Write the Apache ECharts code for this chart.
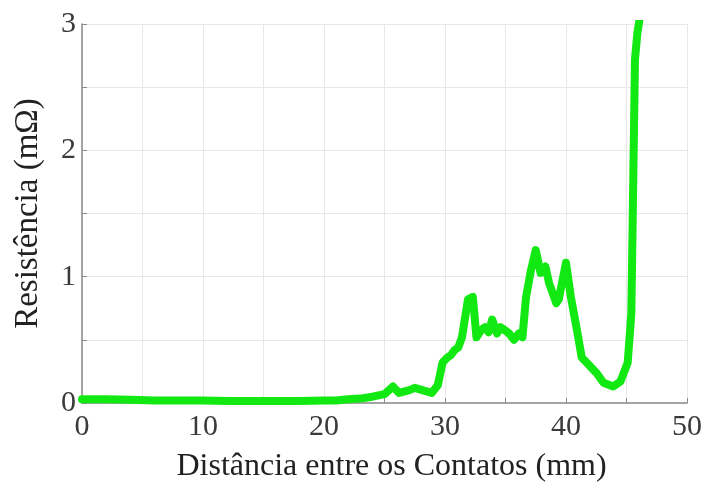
<!DOCTYPE html>
<html>
<head>
<meta charset="utf-8">
<script src="https://cdn.jsdelivr.net/npm/echarts@6/dist/echarts.min.js"></script>
<style>html,body{margin:0;padding:0;background:#fff;}#c{width:705px;height:493px;}</style>
</head>
<body>
<div id="c"></div>
<script>
const distances = [0,2,4,6,8,10,12,14,16,18,20,21,22,23,24,25,25.7,26.2,27,27.5,28.2,28.9,29.4,29.8,30.2,30.5,30.8,31.1,31.4,31.9,32.3,32.6,33.0,33.3,33.6,33.9,34.3,34.6,34.9,35.3,35.7,36.1,36.4,36.7,37.1,37.5,37.9,38.3,38.6,39.2,39.4,40.0,40.4,40.9,41.3,41.7,42.0,42.5,43.1,43.9,44.5,45.1,45.4,45.5,45.7,45.9,46.1];
const resistance = [0.03,0.03,0.025,0.02,0.02,0.02,0.015,0.015,0.015,0.015,0.02,0.02,0.03,0.035,0.05,0.07,0.13,0.08,0.1,0.12,0.1,0.08,0.14,0.32,0.36,0.38,0.42,0.44,0.52,0.82,0.84,0.52,0.58,0.60,0.56,0.66,0.55,0.60,0.58,0.55,0.50,0.55,0.52,0.84,1.05,1.21,1.03,1.08,0.95,0.79,0.82,1.11,0.84,0.58,0.36,0.32,0.29,0.24,0.16,0.13,0.17,0.32,0.71,1.37,2.72,2.93,3.05];
const xTickLabels = ['0','10','20','30','40','50'];
const yTickLabels = ['0','1','2','3'];

const font = 'Liberation Serif, Times New Roman, serif';
const chart = echarts.init(document.getElementById('c'));
chart.setOption({
  animation: false,
  grid: {left: 82, right: 10, top: 24, bottom: 90, containLabel: false},
  xAxis: {
    type: 'value', min: 0, max: 50, interval: 5,
    name: 'Distância entre os Contatos (mm)', nameLocation: 'middle', nameGap: 48,
    nameTextStyle: {fontFamily: font, fontSize: 32, color: '#222', padding: [0, 0, 0, 14]},
    axisLine: {show: true, lineStyle: {color: '#8a8a8a', width: 1.5}},
    axisTick: {show: true, inside: true, length: 5, lineStyle: {color: '#8a8a8a'}},
    axisLabel: {
      fontFamily: font, fontSize: 30, color: '#3a3a3a', margin: 9,
      formatter: v => { const i = xTickLabels.indexOf(String(v)); return i >= 0 ? xTickLabels[i] : ''; }
    },
    splitLine: {show: true, lineStyle: {color: '#e8e8e8', width: 1}}
  },
  yAxis: {
    type: 'value', min: 0, max: 3, interval: 0.5,
    name: 'Resistência (mΩ)', nameLocation: 'middle', nameGap: 37, nameRotate: 90,
    nameTextStyle: {fontFamily: font, fontSize: 33, color: '#222'},
    axisLine: {show: true, lineStyle: {color: '#8a8a8a', width: 1.5}},
    axisTick: {show: true, inside: true, length: 5, lineStyle: {color: '#8a8a8a'}},
    axisLabel: {
      fontFamily: font, fontSize: 30, color: '#3a3a3a', margin: 6,
      formatter: v => { const i = yTickLabels.indexOf(String(v)); return i >= 0 ? yTickLabels[i] : ''; }
    },
    splitLine: {show: true, lineStyle: {color: '#e8e8e8', width: 1}}
  },
  series: [{
    type: 'line',
    data: distances.map((d, i) => [d, resistance[i]]),
    showSymbol: false,
    clip: true,
    lineStyle: {color: '#12e812', width: 8, join: 'round', cap: 'round'}
  }]
});
</script>
</body>
</html>
